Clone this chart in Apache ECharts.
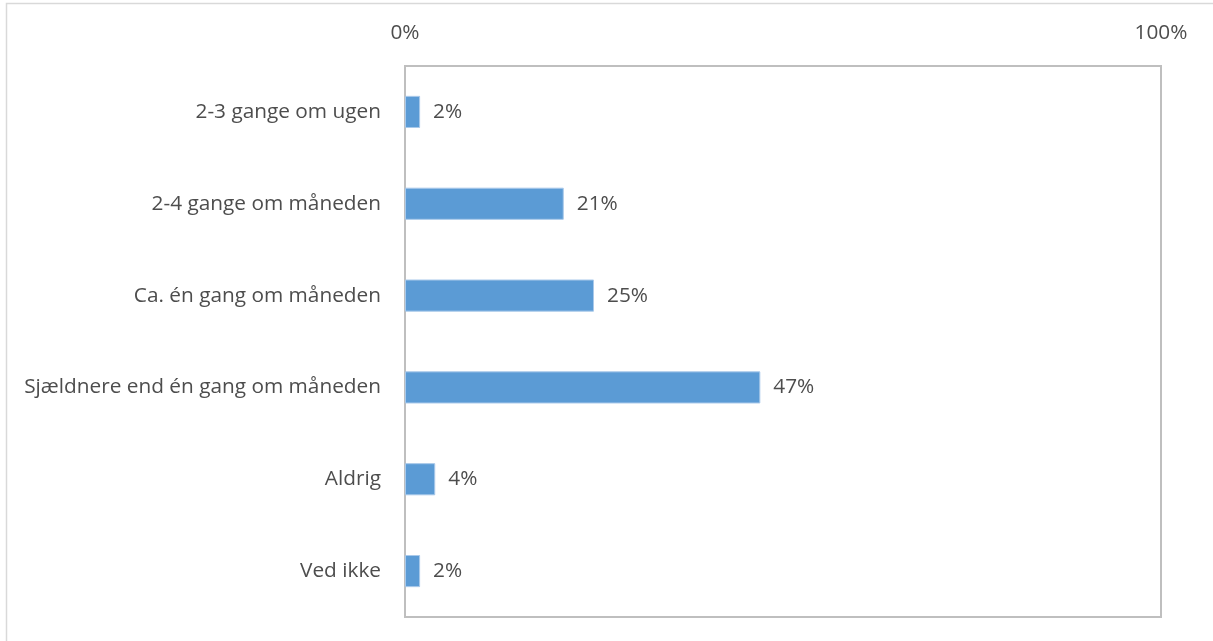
<!DOCTYPE html>
<html>
<head>
<meta charset="utf-8">
<script src="https://cdn.jsdelivr.net/npm/echarts@6/dist/echarts.min.js"></script>
<style>
  html, body { margin: 0; padding: 0; background: #fff; }
  #chart { width: 1213px; height: 641px; }
</style>
</head>
<body>
<div id="chart"></div>
<script>
// Answer categories, top to bottom
const categories = [
  '2-3 gange om ugen',
  '2-4 gange om måneden',
  'Ca. én gang om måneden',
  'Sjældnere end én gang om måneden',
  'Aldrig',
  'Ved ikke'
];
// Share of respondents (%)
const shares = [2, 21, 25, 47, 4, 2];
// Value axis ticks shown
const axisTicks = [0, 100];

const FONT = '"Open Sans", "Liberation Sans", sans-serif';
const TEXT = '#4D4D4D';
const SIZE = 20.8;

const chart = echarts.init(document.getElementById('chart'), null, { renderer: 'canvas' });
chart.setOption({
  animation: false,
  graphic: [{
    type: 'rect',
    shape: { x: 6.5, y: 3.5, width: 1230, height: 660 },
    style: { fill: 'none', stroke: '#D9D9D9', lineWidth: 1.5 },
    silent: true
  }],
  grid: {
    left: 405, right: 52, top: 66, bottom: 24,
    show: true,
    borderColor: '#BFBFBF',
    borderWidth: 2,
    backgroundColor: 'transparent'
  },
  xAxis: {
    type: 'value',
    position: 'top',
    min: axisTicks[0],
    max: axisTicks[axisTicks.length - 1],
    interval: axisTicks[1] - axisTicks[0],
    axisLine: { show: false },
    axisTick: { show: false },
    splitLine: { show: false },
    axisLabel: {
      margin: 22,
      color: TEXT,
      fontFamily: FONT,
      fontSize: SIZE,
      formatter: v => v + '%'
    }
  },
  yAxis: {
    type: 'category',
    data: categories,
    inverse: true,
    axisLine: { show: false },
    axisTick: { show: false },
    splitLine: { show: false },
    axisLabel: {
      margin: 24,
      color: TEXT,
      fontFamily: FONT,
      fontSize: SIZE
    }
  },
  series: [{
    type: 'bar',
    data: shares,
    barWidth: '35%',
    itemStyle: { color: '#5B9BD5', borderColor: '#A9C9EA', borderWidth: 1 },
    label: {
      show: true,
      position: 'right',
      distance: 13,
      color: TEXT,
      fontFamily: FONT,
      fontSize: SIZE,
      formatter: p => p.value + '%'
    }
  }]
});
</script>
</body>
</html>
